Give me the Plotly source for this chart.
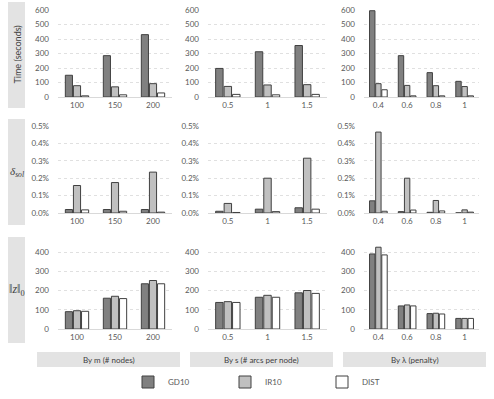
import plotly.graph_objects as go
from plotly.subplots import make_subplots

W, H = 494, 399

series = ["GD10", "IR10", "DIST"]
fills = ["#808080", "#c0c0c0", "#ffffff"]
outline = "#404040"

cats_m = ["100", "150", "200"]
cats_s = ["0.5", "1", "1.5"]
cats_lam = ["0.4", "0.6", "0.8", "1"]

# Time (seconds)
time_m = {"GD10": [150, 285, 430], "IR10": [78, 70, 92], "DIST": [8, 15, 28]}
time_s = {"GD10": [197, 312, 355], "IR10": [73, 83, 85], "DIST": [18, 15, 18]}
time_lam = {"GD10": [595, 285, 168, 108], "IR10": [92, 80, 78, 72], "DIST": [50, 8, 8, 8]}

# delta_sol (%)
dsol_m = {"GD10": [0.02, 0.02, 0.02], "IR10": [0.158, 0.175, 0.235], "DIST": [0.018, 0.01, 0.005]}
dsol_s = {"GD10": [0.01, 0.022, 0.03], "IR10": [0.055, 0.2, 0.315], "DIST": [0.003, 0.008, 0.022]}
dsol_lam = {"GD10": [0.07, 0.008, 0.004, 0.001], "IR10": [0.465, 0.2, 0.072, 0.018],
            "DIST": [0.01, 0.017, 0.012, 0.005]}

# ||z||_0
z_m = {"GD10": [90, 160, 235], "IR10": [95, 170, 252], "DIST": [92, 158, 235]}
z_s = {"GD10": [138, 165, 188], "IR10": [142, 175, 200], "DIST": [138, 165, 185]}
z_lam = {"GD10": [390, 120, 80, 55], "IR10": [425, 125, 82, 55], "DIST": [385, 120, 78, 55]}

time_ticks = [0, 100, 200, 300, 400, 500, 600]
dsol_ticks = [0.0, 0.1, 0.2, 0.3, 0.4, 0.5]
z_ticks = [0, 100, 200, 300, 400]

row_titles = ["Time (seconds)", "<i>δ<sub>sol</sub></i>", "‖<i>z</i>‖<sub>0</sub>"]
group_titles = ["By m (# nodes)", "By s (# arcs per node)", "By λ (penalty)"]

FONT = "Lato, 'Open Sans', sans-serif"
TXT = "#595959"


def px_x(x):
    return x / W


def px_y(y):
    return 1 - y / H


col_px = [(58, 172), (208, 327), (364, 479)]
row_px = [(10, 97), (126, 213), (242.4, 329)]

fig = make_subplots(rows=3, cols=3)

grid = [
    [(cats_m, time_m), (cats_s, time_s), (cats_lam, time_lam)],
    [(cats_m, dsol_m), (cats_s, dsol_s), (cats_lam, dsol_lam)],
    [(cats_m, z_m), (cats_s, z_s), (cats_lam, z_lam)],
]

for r in range(3):
    for c in range(3):
        cats, vals = grid[r][c]
        for name, col in zip(series, fills):
            fig.add_trace(
                go.Bar(
                    x=cats,
                    y=vals[name],
                    name=name,
                    marker=dict(color=col, line=dict(color=outline, width=1)),
                    showlegend=(r == 0 and c == 0),
                    legendgroup=name,
                ),
                row=r + 1,
                col=c + 1,
            )

for r in range(3):
    for c in range(3):
        idx = r * 3 + c + 1
        xa = "xaxis" if idx == 1 else f"xaxis{idx}"
        ya = "yaxis" if idx == 1 else f"yaxis{idx}"
        x0, x1 = col_px[c]
        y0, y1 = row_px[r]
        fig.layout[xa].update(
            domain=[px_x(x0), px_x(x1)],
            type="category",
            showline=True,
            linecolor="#d9d9d9",
            linewidth=1,
            showgrid=False,
            ticks="",
            automargin=False,
            tickfont=dict(size=8, color=TXT),
        )
        yargs = dict(
            domain=[px_y(y1), px_y(y0)],
            showgrid=True,
            gridcolor="#e0e0e0",
            griddash="dot",
            gridwidth=1,
            zeroline=False,
            ticks="",
            ticklabelstandoff=8,
            automargin=False,
            tickfont=dict(size=8, color=TXT),
        )
        if r == 0:
            yargs.update(range=[0, 600], tickmode="array", tickvals=time_ticks,
                         ticktext=[str(v) for v in time_ticks])
        elif r == 1:
            yargs.update(range=[0, 0.5], tickmode="array", tickvals=dsol_ticks,
                         ticktext=[f"{v:.1f}%" for v in dsol_ticks])
        else:
            yargs.update(range=[0, 450], tickmode="array", tickvals=z_ticks,
                         ticktext=[str(v) for v in z_ticks])
        fig.layout[ya].update(**yargs)

shapes = []
annotations = []

# row label boxes on the left
box_rows = [(2, 108), (119, 225), (237, 343)]
title_fonts = [
    dict(size=9, color="#404040", family=FONT),
    dict(size=11, color="#404040", family="'Liberation Serif', serif"),
    dict(size=12, color="#404040", family="'Liberation Serif', serif"),
]
for i, (t, b) in enumerate(box_rows):
    shapes.append(dict(type="rect", xref="paper", yref="paper",
                       x0=px_x(8), x1=px_x(25), y0=px_y(b), y1=px_y(t),
                       fillcolor="#e3e3e3", line=dict(width=0), layer="below"))
    annotations.append(dict(xref="paper", yref="paper", x=px_x(16.5), y=px_y((t + b) / 2),
                            xanchor="center", yanchor="middle",
                            text=row_titles[i], showarrow=False,
                            textangle=-90 if i == 0 else 0,
                            font=title_fonts[i]))

# group label boxes at the bottom
box_cols = [(37, 180), (190, 333), (343, 486)]
for i, (l, rr) in enumerate(box_cols):
    shapes.append(dict(type="rect", xref="paper", yref="paper",
                       x0=px_x(l), x1=px_x(rr), y0=px_y(367), y1=px_y(352),
                       fillcolor="#e3e3e3", line=dict(width=0), layer="below"))
    annotations.append(dict(xref="paper", yref="paper", x=px_x((l + rr) / 2), y=px_y(359.5),
                            xanchor="center", yanchor="middle",
                            text=group_titles[i], showarrow=False,
                            font=dict(size=8, color="#404040", family=FONT)))

fig.update_layout(
    width=W,
    height=H,
    margin=dict(l=0, r=0, t=0, b=0, autoexpand=False),
    plot_bgcolor="white",
    paper_bgcolor="white",
    font=dict(family=FONT, size=8, color=TXT),
    barmode="group",
    bargap=0.36,
    bargroupgap=0.12,
    shapes=shapes,
    annotations=annotations,
    legend=dict(
        orientation="h",
        x=px_x(128),
        xanchor="left",
        y=px_y(382),
        yanchor="middle",
        entrywidth=52,
        entrywidthmode="pixels",
        font=dict(size=8, color=TXT),
        bgcolor="rgba(0,0,0,0)",
    ),
)

# the page body has a default 8px margin; drop it so the figure fills the window
fig.write_html(
    "out.html",
    config={"displayModeBar": False},
    post_script="document.body.style.margin='0';document.body.style.overflow='hidden';",
)
